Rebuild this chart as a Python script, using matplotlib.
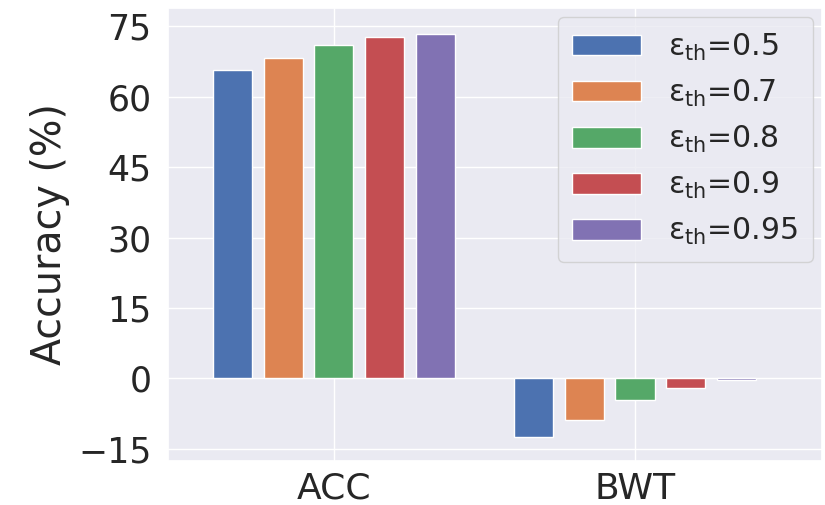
import numpy as np
import matplotlib
matplotlib.use('Agg')
import matplotlib.pyplot as plt
import seaborn as sns

# values
metrics = ['ACC', 'BWT']
thresholds = ['0.5', '0.7', '0.8', '0.9', '0.95']
acc_vals = [65.7, 68.2, 71.0, 72.8, 73.4]
bwt_vals = [-12.4, -8.8, -4.7, -2.1, -0.4]

sns.set_theme(style='darkgrid')
colors = sns.color_palette('deep', 5)

fig = plt.figure(figsize=(8.25, 5.05), dpi=100)
ax = fig.add_axes([0.204, 0.088, 0.792, 0.897])

x = np.arange(len(metrics))
step = 0.168
width = 0.13
for i, th in enumerate(thresholds):
    vals = [acc_vals[i], bwt_vals[i]]
    ax.bar(x + (i - 2) * step, vals, width, color=colors[i],
           label=r'$\mathregular{ε_{th}}$=' + th)

ax.set_xticks(x)
ax.set_xticklabels(metrics, fontsize=26)
ax.tick_params(axis='x', pad=2)
ax.set_yticks([-15, 0, 15, 30, 45, 60, 75])
ax.tick_params(axis='y', labelsize=25, pad=6)
ax.set_ylabel('Accuracy (%)', fontsize=28.5, labelpad=6)
ax.set_xlim(-0.55, 1.62)
ax.set_ylim(-17.5, 79)
ax.legend(loc='upper right', fontsize=21.5, handlelength=2.3, handletextpad=0.9,
          borderaxespad=0.3, labelspacing=0.5, borderpad=0.5)

fig.savefig('out.png', dpi=100)
